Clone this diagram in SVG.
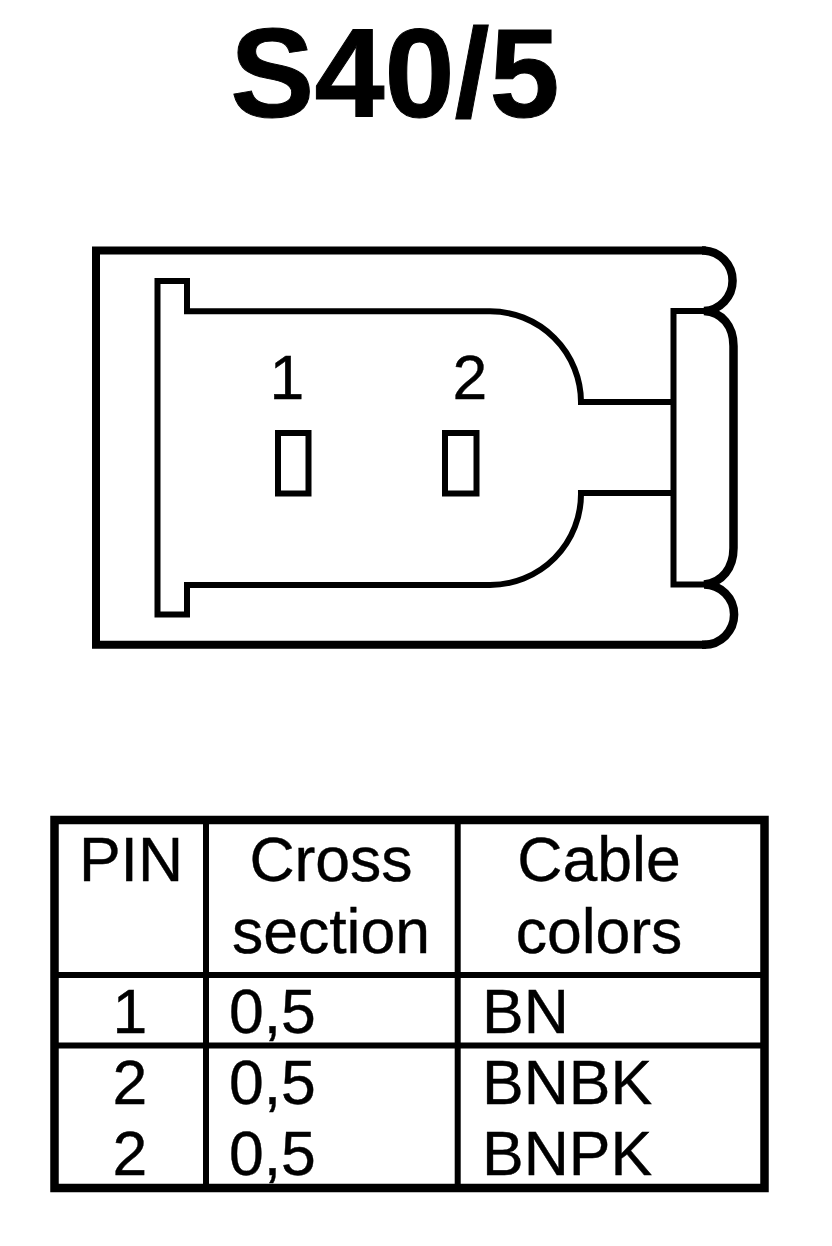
<svg xmlns="http://www.w3.org/2000/svg" width="832" height="1246" viewBox="0 0 832 1246">
<style>
.l{fill:none;stroke:#000;stroke-width:6;stroke-linejoin:miter;stroke-linecap:square}
.o{stroke-width:8}
.r{stroke-width:8.500;stroke-linecap:butt}
.t{font-family:"Liberation Sans",Arial,sans-serif;font-size:62.5px;fill:#000;stroke:#000;stroke-width:.4}
.m{text-anchor:middle}
</style>
<rect width="832" height="1246" fill="#fff"/>
<text x="395" y="117" class="m" style="font-family:'Liberation Sans',Arial,sans-serif;font-weight:bold;font-size:126px;stroke:#000;stroke-width:1">S40/5</text>
<g id="connector-body">
<path class="l o" d="M702 250.500H96V644.700H702"/>
<path class="l r" d="M702 250.500H704A30.300 30.300 0 0 1 704 311C722 312 733.500 326 733.500 346V548C733.500 568 722 583 704 584.500A30 30 0 0 1 704 644.700H702"/>
<path class="l" d="M704 311H673.500V584.500H704"/>
<path class="l" d="M187 311.300H490A91 91 0 0 1 581 402H673M187 585H490A91 91 0 0 0 581 493H673M187 311.300V281H157.500V614.500H187V585"/>
</g>
<g id="pin-1"><rect class="l" x="278" y="433" width="30.500" height="60.500"/><text class="t m" x="287" y="399">1</text></g>
<g id="pin-2"><rect class="l" x="445" y="433" width="31.500" height="60.500"/><text class="t m" x="470" y="399">2</text></g>
<g id="table">
<path class="l" style="stroke-width:8.500" d="M54.500 820H764.500V1188H54.500Z"/>
<path class="l" d="M206 820V1188M457.700 820V1188M54.500 975H764.500M54.500 1045.500H764.500"/>
<text class="t m" x="131" y="880.500">PIN</text>
<text class="t m" x="331" y="880.500">Cross</text>
<text class="t m" x="331" y="952.500">section</text>
<text class="t m" x="599" y="880.500">Cable</text>
<text class="t m" x="599" y="952.500">colors</text>
<text class="t m" x="130" y="1032.500">1</text>
<text class="t" x="229" y="1032.500">0,5</text>
<text class="t" x="482" y="1032.500">BN</text>
<text class="t m" x="130" y="1103.500">2</text>
<text class="t" x="229" y="1103.500">0,5</text>
<text class="t" x="482" y="1103.500">BNBK</text>
<text class="t m" x="130" y="1174.500">2</text>
<text class="t" x="229" y="1174.500">0,5</text>
<text class="t" x="482" y="1174.500">BNPK</text>
</g>
</svg>
